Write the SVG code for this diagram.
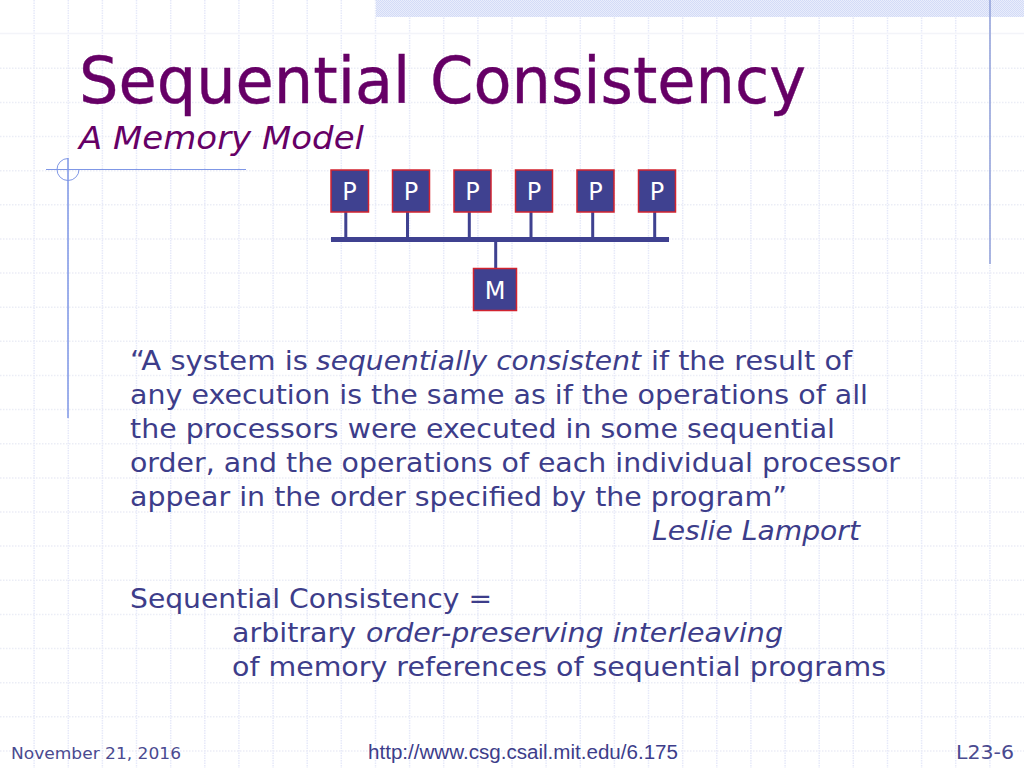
<svg xmlns="http://www.w3.org/2000/svg" width="1024" height="768" viewBox="0 0 1024 768">
<defs>
<pattern id="check" width="2" height="2" patternUnits="userSpaceOnUse">
<rect width="2" height="2" fill="#e9edfb"/>
<rect width="1" height="1" fill="#d3dbf7"/>
<rect x="1" y="1" width="1" height="1" fill="#d3dbf7"/>
</pattern>
</defs>
<style>
text{font-family:"DejaVu Sans",Verdana,sans-serif}
.body{font-size:27px;fill:#3d3d8a}
.i{font-style:italic}
.box{fill:#3f4190;stroke:#d2232f;stroke-width:1.5}
.lbl{font-size:24px;fill:#fff;text-anchor:middle}
.wire{stroke:#3f4190;stroke-width:3;fill:none}
.deco{stroke:#7f97e6;stroke-width:1;fill:none}
.gv{stroke:#e6e9f9;stroke-width:1.5;stroke-dasharray:1.500 1;fill:none}
.gh{stroke:#ebedf6;stroke-width:1.5;stroke-dasharray:1.500 1.500;fill:none}
</style>
<rect width="1024" height="768" fill="#fff"/>
<g id="grid">
<path class="gv" d="M34.100 0V768M68.300 0V768M102.400 0V768M136.500 0V768M170.700 0V768M204.800 0V768M238.900 0V768M273.100 0V768M307.200 0V768M341.300 0V768M375.500 0V768M409.600 0V768M443.700 0V768M477.900 0V768M512 0V768M546.100 0V768M580.300 0V768M614.400 0V768M648.500 0V768M682.700 0V768M716.800 0V768M750.900 0V768M785.100 0V768M819.200 0V768M853.300 0V768M887.500 0V768M921.600 0V768M955.700 0V768M989.900 0V768"/>
<path d="M0 33.500H1024" stroke="#f3f4f9" stroke-width="1.500" fill="none"/>
<path class="gh" d="M0 68.300H1024M0 102.400H1024M0 136.500H1024M0 170.700H1024M0 204.800H1024M0 238.900H1024M0 273.100H1024M0 307.200H1024M0 341.300H1024M0 375.500H1024M0 409.600H1024M0 443.700H1024M0 477.900H1024M0 512H1024M0 546.100H1024M0 580.300H1024M0 614.400H1024M0 648.500H1024M0 682.700H1024M0 716.800H1024M0 750.900H1024"/>
</g>
<rect x="376" y="0" width="648" height="17" fill="url(#check)"/>
<g id="decor">
<path class="deco" d="M46 169.500H246"/>
<path class="deco" d="M68 158V418" style="stroke-width:1.500"/>
<path class="deco" d="M68 158.500A11 11 0 1 0 79 169.500"/>
<path class="deco" d="M990 0V264" style="stroke-width:1.500;stroke:#8f9fd8"/>
</g>
<g id="title">
<text x="79" y="103" font-size="64" fill="#660066" stroke="#660066" stroke-width="0.4" textLength="727" lengthAdjust="spacingAndGlyphs">Sequential Consistency</text>
<text x="79" y="149" font-size="32" font-style="italic" fill="#660066" textLength="285" lengthAdjust="spacingAndGlyphs">A Memory Model</text>
</g>
<g id="connectors">
<path d="M331 239.500H669" stroke="#3f4190" stroke-width="5" fill="none"/>
<path class="wire" d="M345.800 212V238M407.500 212V238M469.300 212V238M531 212V238M592.700 212V238M654.700 212V238M495.700 240V268"/>
</g>
<g id="p1"><rect class="box" x="331" y="170" width="37.500" height="42"/><text class="lbl" x="349.500" y="200">P</text></g>
<g id="p2"><rect class="box" x="392.500" y="170" width="37" height="42"/><text class="lbl" x="411" y="200">P</text></g>
<g id="p3"><rect class="box" x="454" y="170" width="37" height="42"/><text class="lbl" x="472.500" y="200">P</text></g>
<g id="p4"><rect class="box" x="515.500" y="170" width="37" height="42"/><text class="lbl" x="534" y="200">P</text></g>
<g id="p5"><rect class="box" x="577" y="170" width="37" height="42"/><text class="lbl" x="595.500" y="200">P</text></g>
<g id="p6"><rect class="box" x="638.500" y="170" width="37" height="42"/><text class="lbl" x="657" y="200">P</text></g>
<g id="m"><rect class="box" x="473.500" y="268.500" width="43" height="42"/><text class="lbl" x="495" y="299">M</text></g>
<g id="quote">
<text class="body" y="370"><tspan x="130" textLength="178" lengthAdjust="spacingAndGlyphs">“A system is</tspan><tspan class="i" x="316" textLength="325" lengthAdjust="spacingAndGlyphs">sequentially consistent</tspan><tspan x="651" textLength="201" lengthAdjust="spacingAndGlyphs">if the result of</tspan></text>
<text class="body" x="130" y="404" textLength="738" lengthAdjust="spacingAndGlyphs">any execution is the same as if the operations of all</text>
<text class="body" x="130" y="438" textLength="705" lengthAdjust="spacingAndGlyphs">the processors were executed in some sequential</text>
<text class="body" x="130" y="472" textLength="770" lengthAdjust="spacingAndGlyphs">order, and the operations of each individual processor</text>
<text class="body" x="130" y="506" textLength="657" lengthAdjust="spacingAndGlyphs">appear in the order specified by the program”</text>
<text class="body i" x="652" y="540" textLength="208" lengthAdjust="spacingAndGlyphs">Leslie Lamport</text>
</g>
<g id="definition">
<text class="body" x="130" y="608" textLength="362" lengthAdjust="spacingAndGlyphs">Sequential Consistency =</text>
<text class="body" y="642"><tspan x="232" textLength="124" lengthAdjust="spacingAndGlyphs">arbitrary</tspan><tspan class="i" x="366" textLength="417" lengthAdjust="spacingAndGlyphs">order-preserving interleaving</tspan></text>
<text class="body" x="232" y="676" textLength="654" lengthAdjust="spacingAndGlyphs">of memory references of sequential programs</text>
</g>
<g id="footer">
<text x="11" y="759" font-size="16" fill="#4a4a90" textLength="170" lengthAdjust="spacingAndGlyphs">November 21, 2016</text>
<text x="368" y="759" font-size="20" fill="#3d3d8a" style="font-family:'Liberation Sans',Arial,sans-serif" textLength="310" lengthAdjust="spacingAndGlyphs">http://www.csg.csail.mit.edu/6.175</text>
<text x="956" y="759" font-size="20" fill="#4a4a90" textLength="58" lengthAdjust="spacingAndGlyphs">L23-6</text>
</g>
</svg>
